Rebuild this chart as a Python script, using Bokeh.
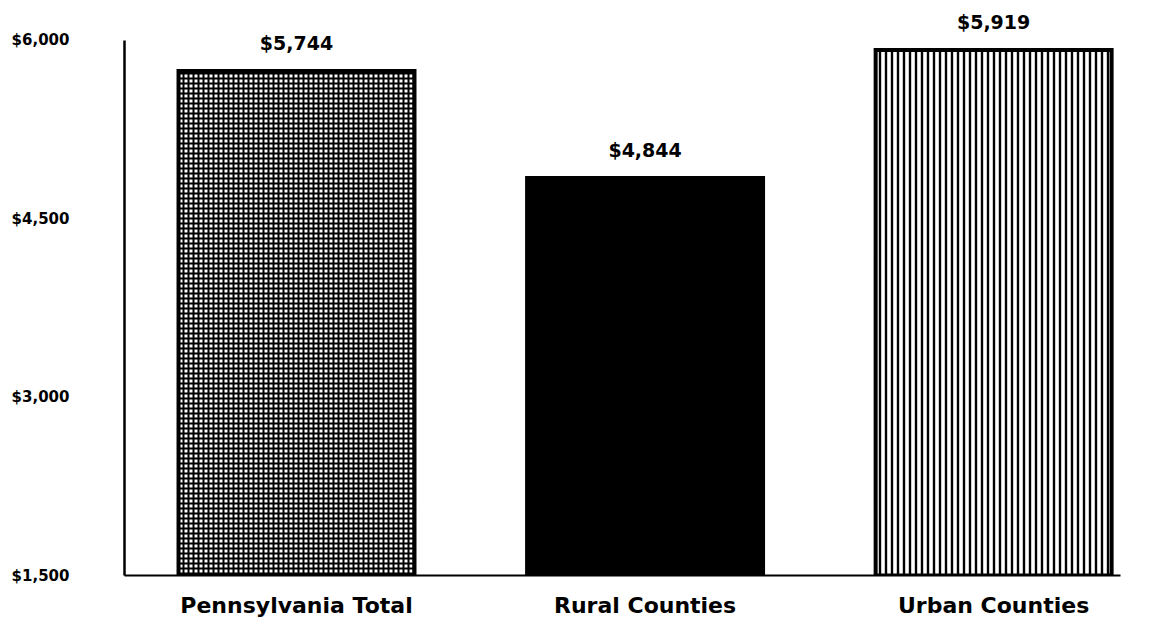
from bokeh.plotting import figure
from bokeh.models import ColumnDataSource, FixedTicker, Range1d
from bokeh.core.properties import value
from bokeh.embed import file_html
from bokeh.resources import INLINE

# ---- data ----
categories = ["Pennsylvania Total", "Rural Counties", "Urban Counties"]
values = [5744, 4844, 5919]
y_ticks = [1500, 3000, 4500, 6000]
y_tick_labels = ["$1,500", "$3,000", "$4,500", "$6,000"]

# ---- styles ----
fill_colors = ["white", "black", "white"]
hatch_patterns = ["+", " ", "|"]
hatch_scales = [5, 5, 6]
hatch_weights = [2.0, 1.0, 2.4]

FONT = "DejaVu Sans"

xs = list(range(len(categories)))
src = ColumnDataSource(dict(
    x=xs, v=values, label=[f"${v:,}" for v in values],
    fill=fill_colors, hatch=hatch_patterns, hs=hatch_scales, hw=hatch_weights,
))

p = figure(width=1151, height=623, output_backend="svg", toolbar_location=None,
           x_range=Range1d(-0.4935, 2.364), y_range=Range1d(1500, 6336))
p.min_border_left = 124
p.min_border_right = 31
p.min_border_top = 0
p.min_border_bottom = 48
p.outline_line_color = None
p.xgrid.visible = False
p.ygrid.visible = False
p.background_fill_color = "white"

p.vbar(x="x", top="v", bottom=1500, width=0.677, source=src,
       fill_color="fill", line_color="black", line_width=4, line_join="miter",
       hatch_pattern="hatch", hatch_color="black",
       hatch_scale="hs", hatch_weight="hw")

p.text(x="x", y="v", text="label", source=src,
       text_align="center", text_baseline="bottom", y_offset=-17,
       text_font=value(FONT), text_font_style="bold", text_font_size="19px",
       text_color="black")

# y axis
ya = p.yaxis[0]
ya.ticker = FixedTicker(ticks=y_ticks)
ya.major_label_overrides = {t: l for t, l in zip(y_ticks, y_tick_labels)}
ya.bounds = (1500, 6000)
ya.axis_line_width = 2.5
ya.axis_line_color = "black"
ya.major_tick_line_color = None
ya.minor_tick_line_color = None
ya.major_label_standoff = 49
ya.major_label_text_font = FONT
ya.major_label_text_font_style = "bold"
ya.major_label_text_font_size = "15px"
ya.major_label_text_color = "black"

# x axis
xa = p.xaxis[0]
xa.ticker = FixedTicker(ticks=xs)
xa.major_label_overrides = {i: c for i, c in zip(xs, categories)}
xa.axis_line_width = 2
xa.axis_line_color = "black"
xa.major_tick_line_color = None
xa.minor_tick_line_color = None
xa.major_label_standoff = 11
xa.major_label_text_font = FONT
xa.major_label_text_font_style = "bold"
xa.major_label_text_font_size = "22px"
xa.major_label_text_color = "black"

open("out.html", "w").write(file_html(p, INLINE))
